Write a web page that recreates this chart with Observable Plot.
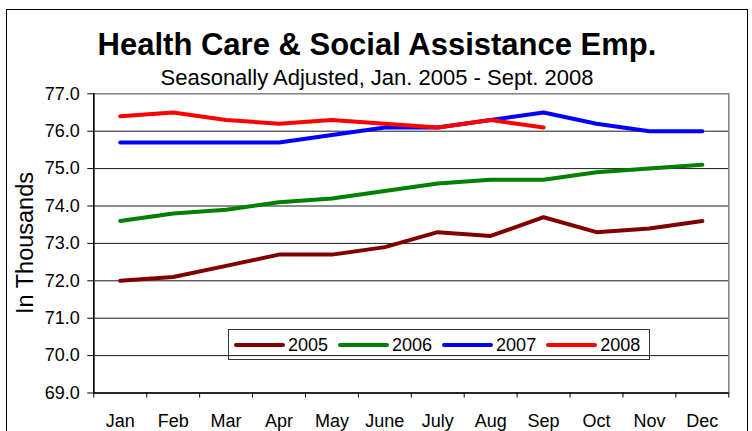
<!DOCTYPE html>
<html>
<head>
<meta charset="utf-8">
<script src="https://cdn.jsdelivr.net/npm/d3@7"></script>
<script src="https://cdn.jsdelivr.net/npm/@observablehq/plot@0.6"></script>
<style>
  html, body { margin: 0; padding: 0; background: white; }
  #fig { position: relative; width: 752px; height: 431px; overflow: hidden; background: white;
         font-family: "Liberation Sans", Arial, sans-serif; color: black; }
  #header { position: relative; height: 80px; }
  .title { position: absolute; left: 0; width: 754px; text-align: center; line-height: 1; white-space: nowrap; }
  #t1 { top: 28.8px; font-size: 31px; font-weight: bold; }
  #t2 { top: 67.1px; font-size: 22px; }
  #ylab { position: absolute; left: 25.8px; top: 243px; font-size: 23.5px; line-height: 1; white-space: nowrap;
          transform: translate(-50%, -50%) rotate(-90deg); }
  #legend { position: absolute; left: 228px; top: 329px; width: 422px; height: 31px; box-sizing: border-box;
            border: 1px solid #333; background: white; display: flex; align-items: center; padding-left: 5px; }
  .item { display: flex; align-items: center; margin-right: 10px; font-size: 18px; line-height: 1; }
  .sw { width: 51px; height: 4px; border-radius: 2px; margin-right: 3px; }
  #border { position: absolute; left: 6px; top: 9px; width: 742px; height: 440px; box-sizing: border-box;
            border: 1.5px solid black; pointer-events: none; z-index: 5; }
  svg { position: relative; z-index: 1; }
</style>
</head>
<body>
<div id="fig">
  <div id="header">
    <div class="title" id="t1">Health Care &amp; Social Assistance Emp.</div>
    <div class="title" id="t2">Seasonally Adjusted, Jan. 2005 - Sept. 2008</div>
  </div>
  <div id="chart"></div>
  <div id="ylab">In Thousands</div>
  <div id="legend"></div>
  <div id="border"></div>
</div>
<script>
const months = ["Jan", "Feb", "Mar", "Apr", "May", "June", "July", "Aug", "Sep", "Oct", "Nov", "Dec"];
const years = ["2005", "2006", "2007", "2008"];
const colors = ["#800000", "#008000", "#0000FF", "#FF0000"];
const v2005 = [72.0, 72.1, 72.4, 72.7, 72.7, 72.9, 73.3, 73.2, 73.7, 73.3, 73.4, 73.6];
const v2006 = [73.6, 73.8, 73.9, 74.1, 74.2, 74.4, 74.6, 74.7, 74.7, 74.9, 75.0, 75.1];
const v2007 = [75.7, 75.7, 75.7, 75.7, 75.9, 76.1, 76.1, 76.3, 76.5, 76.2, 76.0, 76.0];
const v2008 = [76.4, 76.5, 76.3, 76.2, 76.3, 76.2, 76.1, 76.3, 76.1];
const yTicks = [69, 70, 71, 72, 73, 74, 75, 76, 77];

const series = [v2005, v2006, v2007, v2008];
const data = years.flatMap((yr, i) => series[i].map((v, j) => ({year: yr, m: j, v})));
const monthIdx = months.map((_, i) => i);
const boundaries = d3.range(months.length + 1).map(i => i - 0.5);

const chart = Plot.plot({
  width: 752,
  height: 351,
  marginTop: 13.3,
  marginBottom: 38.5,
  marginLeft: 93.3,
  marginRight: 23.7,
  style: {background: "none", overflow: "visible", fontFamily: "'Liberation Sans', Arial, sans-serif", fontSize: "18px", color: "black"},
  x: {type: "linear", domain: [-0.5, months.length - 0.5], axis: null},
  y: {domain: [yTicks[0], yTicks[yTicks.length - 1]], axis: null},
  color: {domain: years, range: colors},
  marks: [
    Plot.gridY(yTicks.slice(1, -1), {stroke: "black", strokeOpacity: 0.9, strokeWidth: 1}),
    Plot.frame({stroke: "#808080", strokeWidth: 1.5}),
    Plot.ruleX([boundaries[0]], {stroke: "black", strokeWidth: 1.5}),
    Plot.ruleY([yTicks[0]], {stroke: "black", strokeWidth: 1.5}),
    Plot.axisY(yTicks, {tickSize: 6, tickPadding: 8, tickFormat: d => d.toFixed(1), fontSize: 18, stroke: "black", strokeOpacity: 1, label: null}),
    Plot.axisX(boundaries, {tickSize: 5, tickFormat: () => "", stroke: "black", strokeOpacity: 1, label: null}),
    Plot.axisX(monthIdx, {tickSize: 0, tickPadding: 21, tickFormat: i => months[i], fontSize: 18, label: null}),
    Plot.lineY(data, {x: "m", y: "v", z: "year", stroke: "year", strokeWidth: 4, strokeLinecap: "round", strokeLinejoin: "round"})
  ]
});
document.getElementById("chart").appendChild(chart);

const legend = document.getElementById("legend");
years.forEach((yr, i) => {
  const item = document.createElement("div");
  item.className = "item";
  const sw = document.createElement("div");
  sw.className = "sw";
  sw.style.background = colors[i];
  const tx = document.createElement("span");
  tx.textContent = yr;
  item.appendChild(sw);
  item.appendChild(tx);
  legend.appendChild(item);
});
</script>
</body>
</html>
